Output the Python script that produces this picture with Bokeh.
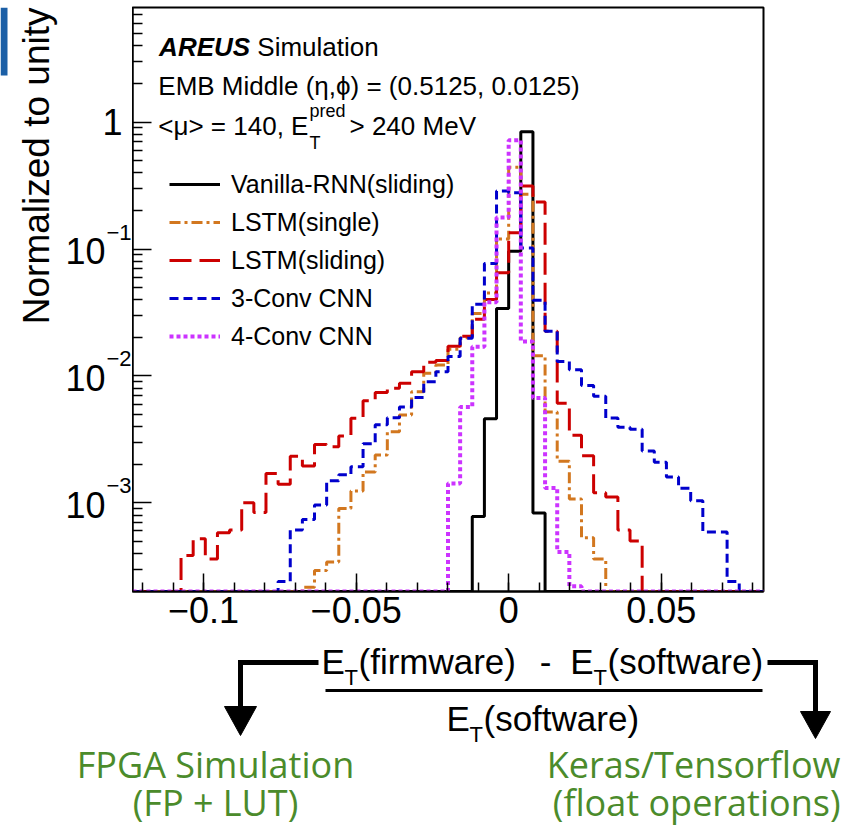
import numpy as np
from bokeh.plotting import figure
from bokeh.layouts import row, column
from bokeh.models import (Range1d, FixedTicker, Legend, LegendItem, CustomJSTickFormatter,
                          Label, LinearScale)
from bokeh.core.properties import value
from bokeh.embed import file_html
from bokeh.resources import INLINE

# ---------------- data ----------------
x_min, x_max = -0.1233, 0.0835
n_bins = 52
y_min, y_max = 2e-4, 8.0

vanilla_rnn = [0] * 28 + [7.8e-4, 4.6e-3, 3.4e-2, 9.6e-2, 0.84, 8.3e-4] + [0] * 18

lstm_single = [0] * 14 + [2.16e-4, 2.93e-4, 3.41e-4, 9.0e-4, 1.24e-3, 1.75e-3, 2.38e-3,
                          3.63e-3, 4.92e-3, 7.5e-3, 1.05e-2, 1.22e-2, 1.62e-2, 2.0e-2,
                          3.1e-2, 4.5e-2, 0.12, 0.44, 0.27, 1.44e-2, 5.2e-3, 2.13e-3,
                          1.07e-3, 5.3e-4, 3.6e-4] + [0] * 13

lstm_sliding = [0] * 4 + [3.85e-4, 5.2e-4, 3.6e-4, 5.8e-4, 6.1e-4, 1.0e-3, 8.4e-4, 1.7e-3,
                          1.4e-3, 2.33e-3, 1.95e-3, 2.88e-3, 2.77e-3, 3.36e-3, 4.63e-3,
                          6.36e-3, 7.4e-3, 8.0e-3, 8.75e-3, 1.08e-2, 1.28e-2, 1.32e-2,
                          1.71e-2, 2.05e-2, 2.8e-2, 4.0e-2, 6.5e-2, 0.134, 0.314, 0.235,
                          2.25e-2, 6.1e-3, 3.4e-3, 2.35e-3, 1.2e-3, 1.11e-3, 6.1e-4,
                          5.0e-4] + [0] * 10

cnn3 = [0] * 12 + [2.4e-4, 6.1e-4, 7.4e-4, 9.6e-4, 1.49e-3, 1.66e-3, 1.92e-3, 2.92e-3,
                   4.13e-3, 4.69e-3, 5.7e-3, 6.75e-3, 9.0e-3, 1.08e-2, 1.42e-2, 1.98e-2,
                   3.67e-2, 7.7e-2, 0.287, 0.278, 0.102, 3.95e-2, 2.25e-2, 1.3e-2,
                   1.12e-2, 8.4e-3, 6.9e-3, 4.65e-3, 3.94e-3, 3.8e-3, 2.56e-3, 2.09e-3,
                   1.6e-3, 1.3e-3, 1.04e-3, 5.9e-4, 5.9e-4, 2.4e-4] + [0] * 2

cnn4 = [0] * 26 + [1.42e-3, 5.7e-3, 1.7e-2, 3.8e-2, 0.177, 0.72, 1.87e-2, 6.7e-3,
                   1.31e-3, 4.1e-4, 2.2e-4] + [0] * 15

series_labels = ["Vanilla-RNN(sliding)", "LSTM(single)", "LSTM(sliding)",
                 "3-Conv CNN", "4-Conv CNN"]
y_major_ticks = [1e-3, 1e-2, 1e-1, 1.0]
x_major_ticks = [-0.1, -0.05, 0, 0.05]

# ---------------- styling / geometry ----------------
FONT = value("Liberation Sans")
GREEN = "#4b8b2b"
styles = [
    dict(color="black", dash="solid", width=3),
    dict(color="#d2771f", dash="11 4 3 4", width=3),
    dict(color="#cc0000", dash="22 8", width=3),
    dict(color="#0000cc", dash="9 5", width=3),
    dict(color="#cc33ff", dash="4 3", width=4),
]
LEFT_W = 132
FRAME_TOP = 7
FRAME_W, FRAME_H = 631, 584
MAIN_BOTTOM = 47
TOP_H = FRAME_TOP + FRAME_H + MAIN_BOTTOM
PAGE_W, PAGE_H = 848, 828

edges = np.linspace(x_min, x_max, n_bins + 1)
y_range = Range1d(y_min, y_max)

# ---------------- main histogram figure ----------------
p = figure(frame_width=FRAME_W, frame_height=FRAME_H,
           x_range=Range1d(x_min, x_max), y_range=y_range,
           y_axis_type="log", output_backend="svg", toolbar_location=None,
           min_border_left=0, min_border_right=PAGE_W - LEFT_W - FRAME_W,
           min_border_top=FRAME_TOP, min_border_bottom=MAIN_BOTTOM)
p.title.visible = False
p.grid.visible = False
p.outline_line_color = "black"
p.outline_line_width = 2

minor_x = [round(v, 3) for v in np.arange(-0.12, 0.0801, 0.01)]
p.xaxis.ticker = FixedTicker(ticks=x_major_ticks, minor_ticks=minor_x)
p.xaxis.formatter = CustomJSTickFormatter(
    code="return tick < 0 ? '\u2212' + Math.abs(tick) : tick.toString();")
p.xaxis.major_label_text_font = "Liberation Sans"
p.xaxis.major_label_text_font_size = "36px"
p.xaxis.major_label_text_color = "black"
p.xaxis.major_label_standoff = 5
p.xaxis.major_tick_in = 18
p.xaxis.major_tick_out = 0
p.xaxis.minor_tick_in = 9
p.xaxis.minor_tick_out = 0
p.xaxis.axis_line_width = 2
p.xaxis.major_tick_line_width = 1.5
p.xaxis.minor_tick_line_width = 1.5

minor_y = [k * 10.0 ** d for d in range(-4, 1) for k in range(2, 10)
           if y_min < k * 10.0 ** d < y_max]
p.yaxis.ticker = FixedTicker(ticks=y_major_ticks, minor_ticks=minor_y)
p.yaxis.formatter = CustomJSTickFormatter(code="return '';")
p.yaxis.major_label_text_font_size = "1px"
p.yaxis.major_label_standoff = 0
p.yaxis.major_tick_in = 19
p.yaxis.major_tick_out = 0
p.yaxis.minor_tick_in = 10
p.yaxis.minor_tick_out = 0
p.yaxis.axis_line_width = 2
p.yaxis.major_tick_line_width = 1.5
p.yaxis.minor_tick_line_width = 1.5

renderers = []
for vals, st in zip([vanilla_rnn, lstm_single, lstm_sliding, cnn3, cnn4], styles):
    v = [y_min if a <= 0 else a for a in vals]
    r = p.step(x=edges, y=v + [v[-1]], mode="after", line_color=st["color"],
               line_width=st["width"], line_dash=st["dash"])
    renderers.append(r)

legend = Legend(items=[LegendItem(label=l, renderers=[r]) for l, r in zip(series_labels, renderers)],
                location=(37, 240), border_line_color=None, background_fill_alpha=0,
                label_text_font="Liberation Sans", label_text_font_size="25px",
                label_text_color="black", glyph_width=51, glyph_height=30,
                label_height=30, spacing=8, padding=0, margin=0, label_standoff=11)
p.add_layout(legend)

FL, FB = LEFT_W, FRAME_TOP + FRAME_H


def put(text, X, Y, size, style="normal"):
    p.add_layout(Label(x=X - FL, y=FB - Y, x_units="screen", y_units="screen", text=text,
                       text_font="Liberation Sans", text_font_size=f"{size}px",
                       text_color="black", text_font_style=style, text_align="left",
                       text_baseline="middle"))


put("AREUS", 158.6, 46, 26, style="bold italic")
put("Simulation", 256.8, 46, 26)
put("EMB Middle (\u03b7,\u03d5) = (0.5125, 0.0125)", 157.8, 85, 26)
put("<\u03bc> = 140, E", 157.8, 125, 26)
put("pred", 309, 110, 18)
put("T", 309, 142, 18)
put("> 240 MeV", 349, 125, 26)

# ---------------- left strip: y tick labels and y title ----------------
pl = figure(frame_width=LEFT_W, frame_height=FRAME_H,
            x_range=Range1d(0, LEFT_W), y_range=y_range,
            y_axis_type="log", output_backend="svg", toolbar_location=None,
            min_border_left=0, min_border_right=0, min_border_top=FRAME_TOP,
            min_border_bottom=MAIN_BOTTOM)
pl.title.visible = False
pl.axis.visible = False
pl.grid.visible = False
pl.outline_line_color = None
pl.extra_y_ranges = {"px": Range1d(FB, FRAME_TOP)}
pl.extra_y_scales = {"px": LinearScale()}

one = [t for t in y_major_ticks if t == 1.0]
pows = [t for t in y_major_ticks if t != 1.0]
pl.text(x=[122] * len(one), y=one, text=["1"] * len(one), text_font=FONT,
        text_font_size="36px", text_align="right", text_baseline="middle", text_color="black")
pl.text(x=[105] * len(pows), y=pows, text=["10"] * len(pows), text_font=FONT,
        text_font_size="36px", text_align="right", text_baseline="middle",
        text_color="black", y_offset=2)
pl.text(x=[106] * len(pows), y=pows,
        text=["\u2212%d" % (-int(round(np.log10(t)))) for t in pows], text_font=FONT,
        text_font_size="22px", text_align="left", text_baseline="middle",
        text_color="black", y_offset=-17)
pl.text(x=[36], y=[FRAME_TOP], y_range_name="px", text=["Normalized to unity"],
        text_font=FONT, text_font_size="37px", text_align="right",
        text_baseline="middle", angle=np.pi / 2, text_color="black")
pl.quad(left=[0], right=[7], top=[FRAME_TOP], bottom=[75], y_range_name="px",
        fill_color="#1b5fa6", line_color=None)

# ---------------- bottom strip: fraction, arrows, green notes ----------------
BOT_H = PAGE_H - TOP_H
pb = figure(frame_width=PAGE_W, frame_height=BOT_H,
            x_range=Range1d(0, PAGE_W), y_range=Range1d(PAGE_H, TOP_H),
            output_backend="svg", toolbar_location=None,
            min_border_left=0, min_border_right=0, min_border_top=0, min_border_bottom=0)
pb.title.visible = False
pb.axis.visible = False
pb.grid.visible = False
pb.outline_line_color = None

big = dict(text_font=FONT, text_font_size="35px", text_baseline="middle",
           text_color="black")
small = dict(text_font=FONT, text_font_size="22px", text_align="left",
             text_baseline="middle", text_color="black")
pb.text(x=[321, 358, 607, 446, 483], y=[661, 661, 661, 718, 718],
        text=["E", "(firmware)", "(software)", "E", "(software)"], text_align="left", **big)
pb.text(x=[545], y=[661], text=["-"], text_align="center", **big)
pb.text(x=[593], y=[661], text=["E"], text_align="right", **big)
pb.text(x=[344, 593, 469], y=[677, 677, 734], text=["T", "T", "T"], **small)

pb.segment(x0=[325], y0=[690], x1=[762], y1=[690], line_width=3, line_color="black")
pb.line(x=[318, 240, 240], y=[662, 662, 708], line_width=5, line_color="black",
        line_join="miter")
pb.line(x=[767, 815, 815], y=[662, 662, 713], line_width=5, line_color="black",
        line_join="miter")
pb.patches(xs=[[224, 256, 240], [800, 830, 815]], ys=[[706, 706, 735], [711, 711, 738]],
           fill_color="black", line_color="black")

green = dict(text_font=value("Open Sans"), text_font_size="36px", text_baseline="middle",
             text_color=GREEN)
pb.text(x=[215, 215], y=[764, 802], text=["FPGA Simulation", "(FP + LUT)"],
        text_align="center", **green)
pb.text(x=[840, 840], y=[764, 802], text=["Keras/Tensorflow", "(float operations)"],
        text_align="right", **green)

layout = column(row(pl, p, spacing=0), pb, spacing=0)
open("out.html", "w").write(file_html(layout, INLINE))
